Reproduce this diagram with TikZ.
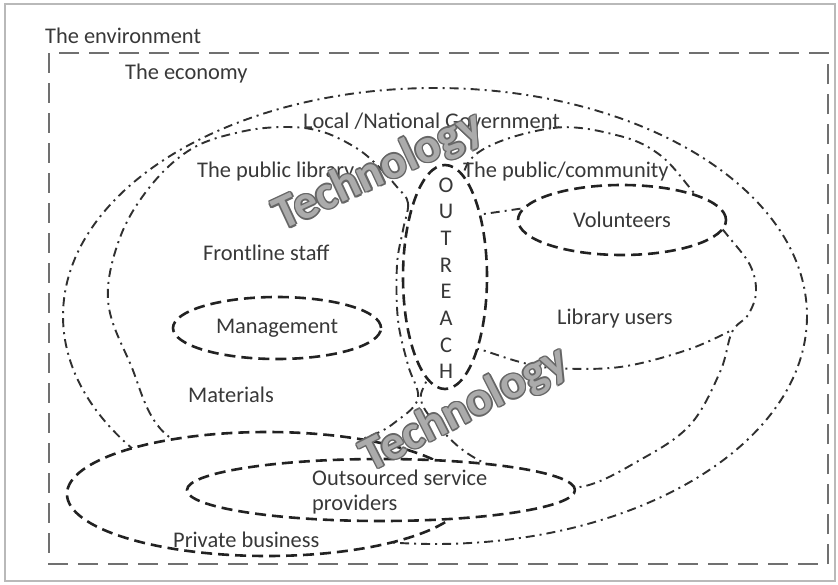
\documentclass[tikz,border=0pt]{standalone}
\usepackage{fontspec}
\setmainfont{Carlito}
\usetikzlibrary{shapes.geometric,calc}
\definecolor{txtgray}{HTML}{383838}
\definecolor{linegray}{HTML}{303030}
\definecolor{ringgray}{HTML}{222222}
\definecolor{rectgray}{HTML}{707070}
\definecolor{techfill}{HTML}{ABABAB}
\definecolor{techedge}{HTML}{666666}
\begin{document}
\begin{tikzpicture}[x=1pt,y=-1pt,
	lbl/.style={anchor=base west, inner sep=0pt, text=txtgray, font=\fontsize{22.4}{26}\selectfont},
	dashdot/.style={linegray, line width=1.9pt, dash pattern=on 9pt off 5pt on 2pt off 5pt},
	ring/.style={ellipse, draw=ringgray, fill=white, line width=2.6pt, dash pattern=on 11pt off 6pt, inner sep=0pt},
	techword/.style={font=\fontsize{48}{56}\selectfont\bfseries, inner sep=0pt}]
	\useasboundingbox (0,0) rectangle (838,584);
	% Draw the frame and the economy box
	\draw[gray!55, line width=2.5pt] (5,4) rectangle (835,581);
	\draw[rectgray, line width=2.2pt, dash pattern=on 20pt off 10pt] (49,53) rectangle (828,564);
	% Draw the government ellipse
	\draw[dashdot] (435,316) ellipse [x radius=372, y radius=228];
	% Draw the public library
	\draw[dashdot] plot[smooth cycle, tension=0.6] coordinates {(397,187) (408,203) (403,230) (397,265) (398,320) (408,365) (418,398) (398,420) (365,438) (265,470) (168,436) (130,363) (108,300) (121,235) (153,183) (193,148) (240,132) (283,127) (320,131) (353,146) (375,163)};
	% Draw the public/community
	\draw[dashdot] plot[smooth cycle, tension=0.6] coordinates {(475,155) (553,128) (620,136) (660,155) (690,188) (708,212) (728,236) (750,265) (756,292) (748,315) (732,332) (720,372) (690,425) (640,460) (580,487) (520,478) (470,455) (440,428) (421,400) (430,370) (445,300) (458,210)};
	% Draw the library users
	\draw[dashdot] plot[smooth, tension=0.6] coordinates {(470,348) (482,350) (520,362) (553,368) (620,367) (687,350) (732,330)};
	\draw[dashdot] (470,216) -- (525,208);
	% Draw the dashed ellipses
	\node[ring, minimum width=400pt, minimum height=124pt] (priv) at (267,494) {};
	\node[ring, minimum width=388pt, minimum height=62pt] (outs) at (381,490) {};
	\node[ring, minimum width=84pt, minimum height=224pt] (outreach) at (445,277) {};
	\node[ring, minimum width=208pt, minimum height=70pt, text=txtgray, font=\fontsize{22.4}{26}\selectfont] (vol) at (622,220) {Volunteers};
	\node[ring, minimum width=208pt, minimum height=62pt, text=txtgray, font=\fontsize{22.4}{26}\selectfont] (mgmt) at (277,328) {Management};
	% Add the labels
	\node[lbl] (env) at (45,43) {The environment};
	\node[lbl] (eco) at (125,79) {The economy};
	\node[lbl] (gov) at (303,128) {Local /National Government};
	\node[lbl] (lib) at (197,177) {The public library};
	\node[lbl] (pub) at (463,177) {The public/community};
	\node[lbl] (staff) at (203,260) {Frontline staff};
	\node[lbl] (users) at (557,324) {Library users};
	\node[lbl] (mat) at (188,402) {Materials};
	\node[lbl] (outs1) at (312,485) {Outsourced service};
	\node[lbl] (outs2) at (312,510) {providers};
	\node[lbl] (privtext) at (173,547) {Private business};
	\foreach \l [count=\i from 0] in {O,U,T,R,E,A,C,H}
		\node[lbl, anchor=base] (o\i) at (446,{192+26.7*\i}) {\l};
	% Add the technology words
	\foreach \a in {0,45,...,315} {
		\node[techword, text=techedge, rotate=25] at ($(379,172)+(\a:1.5)$) {Technology};
		\node[techword, text=techedge, rotate=27] at ($(465,410)+(\a:1.5)$) {Technology};
	}
	\node[techword, text=techfill, rotate=25] (tech1) at (379,172) {Technology};
	\node[techword, text=techfill, rotate=27] (tech2) at (465,410) {Technology};
\end{tikzpicture}
\end{document}
